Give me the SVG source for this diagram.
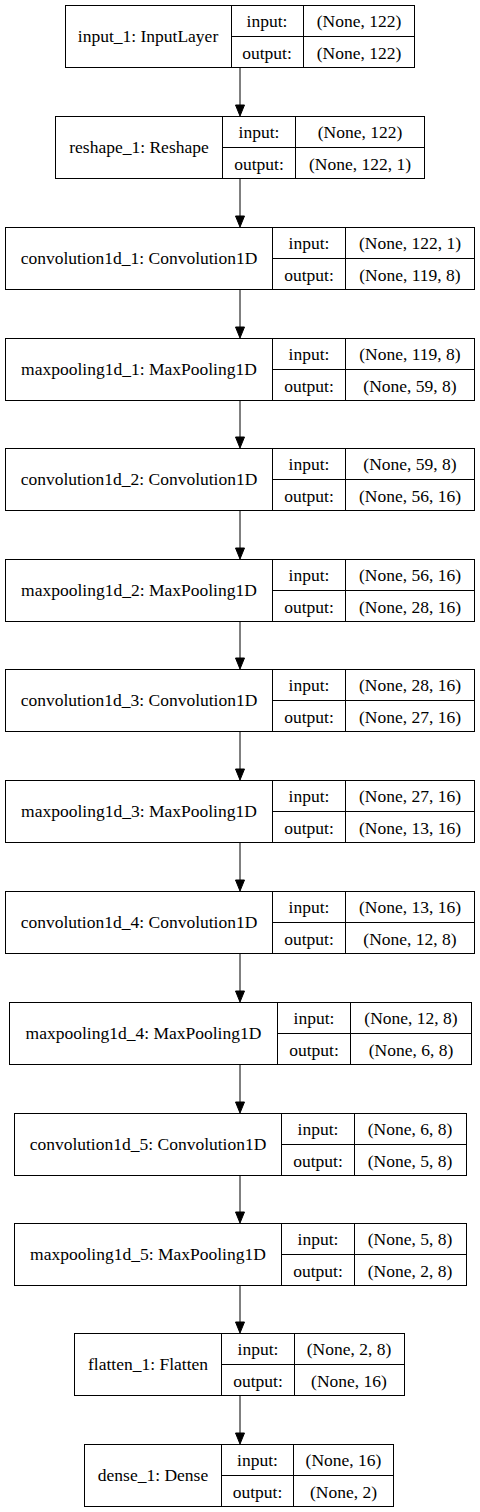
<svg xmlns="http://www.w3.org/2000/svg" width="480" height="1512" viewBox="0 0 480 1512">
<style>
.box{fill:#fff;stroke:#000;stroke-width:1}
.ln{stroke:#000;stroke-width:1;fill:none}
.ah{fill:#000;stroke:#000;stroke-width:1}
text{font-family:"Liberation Serif","Times New Roman",serif;font-size:17.5px;fill:#000;text-anchor:middle}
</style>
<rect width="480" height="1512" fill="#fff"/>
<g id="connectors">
<line class="ln" x1="240" y1="67" x2="240" y2="105"/><polygon class="ah" points="240,116 235.5,105 244.5,105"/>
<line class="ln" x1="240" y1="178" x2="240" y2="216"/><polygon class="ah" points="240,227 235.5,216 244.5,216"/>
<line class="ln" x1="240" y1="289" x2="240" y2="327"/><polygon class="ah" points="240,338 235.5,327 244.5,327"/>
<line class="ln" x1="240" y1="400" x2="240" y2="437"/><polygon class="ah" points="240,448 235.5,437 244.5,437"/>
<line class="ln" x1="240" y1="510" x2="240" y2="548"/><polygon class="ah" points="240,559 235.5,548 244.5,548"/>
<line class="ln" x1="240" y1="621" x2="240" y2="658"/><polygon class="ah" points="240,669 235.5,658 244.5,658"/>
<line class="ln" x1="240" y1="731" x2="240" y2="769"/><polygon class="ah" points="240,780 235.5,769 244.5,769"/>
<line class="ln" x1="240" y1="842" x2="240" y2="880"/><polygon class="ah" points="240,891 235.5,880 244.5,880"/>
<line class="ln" x1="240" y1="953" x2="240" y2="991"/><polygon class="ah" points="240,1002 235.5,991 244.5,991"/>
<line class="ln" x1="240" y1="1064" x2="240" y2="1102"/><polygon class="ah" points="240,1113 235.5,1102 244.5,1102"/>
<line class="ln" x1="240" y1="1175" x2="240" y2="1212"/><polygon class="ah" points="240,1223 235.5,1212 244.5,1212"/>
<line class="ln" x1="240" y1="1285" x2="240" y2="1322"/><polygon class="ah" points="240,1333 235.5,1322 244.5,1322"/>
<line class="ln" x1="240" y1="1395" x2="240" y2="1433"/><polygon class="ah" points="240,1444 235.5,1433 244.5,1433"/>
</g>
<g id="n1">
<rect class="box" x="65.5" y="5.5" width="349" height="62"/>
<line class="ln" x1="231.5" y1="5.5" x2="231.5" y2="67.5"/><line class="ln" x1="303.5" y1="5.5" x2="303.5" y2="67.5"/><line class="ln" x1="231.5" y1="36.5" x2="414.5" y2="36.5"/>
<text x="148" y="42">input_1: InputLayer</text><text x="267" y="27">input:</text><text x="267" y="59">output:</text><text x="359" y="27">(None, 122)</text><text x="359" y="59">(None, 122)</text>
</g>
<g id="n2">
<rect class="box" x="55.5" y="116.5" width="369" height="62"/>
<line class="ln" x1="222.5" y1="116.5" x2="222.5" y2="178.5"/><line class="ln" x1="295.5" y1="116.5" x2="295.5" y2="178.5"/><line class="ln" x1="222.5" y1="147.5" x2="424.5" y2="147.5"/>
<text x="139" y="153">reshape_1: Reshape</text><text x="259" y="138">input:</text><text x="259" y="170">output:</text><text x="360" y="138">(None, 122)</text><text x="360" y="170">(None, 122, 1)</text>
</g>
<g id="n3">
<rect class="box" x="5.5" y="227.5" width="469" height="62"/>
<line class="ln" x1="272.5" y1="227.5" x2="272.5" y2="289.5"/><line class="ln" x1="345.5" y1="227.5" x2="345.5" y2="289.5"/><line class="ln" x1="272.5" y1="258.5" x2="474.5" y2="258.5"/>
<text x="139" y="264">convolution1d_1: Convolution1D</text><text x="309" y="249">input:</text><text x="309" y="281">output:</text><text x="410" y="249">(None, 122, 1)</text><text x="410" y="281">(None, 119, 8)</text>
</g>
<g id="n4">
<rect class="box" x="5.5" y="338.5" width="469" height="62"/>
<line class="ln" x1="272.5" y1="338.5" x2="272.5" y2="400.5"/><line class="ln" x1="345.5" y1="338.5" x2="345.5" y2="400.5"/><line class="ln" x1="272.5" y1="369.5" x2="474.5" y2="369.5"/>
<text x="139" y="375">maxpooling1d_1: MaxPooling1D</text><text x="309" y="360">input:</text><text x="309" y="392">output:</text><text x="410" y="360">(None, 119, 8)</text><text x="410" y="392">(None, 59, 8)</text>
</g>
<g id="n5">
<rect class="box" x="5.5" y="448.5" width="469" height="62"/>
<line class="ln" x1="272.5" y1="448.5" x2="272.5" y2="510.5"/><line class="ln" x1="345.5" y1="448.5" x2="345.5" y2="510.5"/><line class="ln" x1="272.5" y1="479.5" x2="474.5" y2="479.5"/>
<text x="139" y="485">convolution1d_2: Convolution1D</text><text x="309" y="470">input:</text><text x="309" y="502">output:</text><text x="410" y="470">(None, 59, 8)</text><text x="410" y="502">(None, 56, 16)</text>
</g>
<g id="n6">
<rect class="box" x="5.5" y="559.5" width="469" height="62"/>
<line class="ln" x1="272.5" y1="559.5" x2="272.5" y2="621.5"/><line class="ln" x1="345.5" y1="559.5" x2="345.5" y2="621.5"/><line class="ln" x1="272.5" y1="590.5" x2="474.5" y2="590.5"/>
<text x="139" y="596">maxpooling1d_2: MaxPooling1D</text><text x="309" y="581">input:</text><text x="309" y="613">output:</text><text x="410" y="581">(None, 56, 16)</text><text x="410" y="613">(None, 28, 16)</text>
</g>
<g id="n7">
<rect class="box" x="5.5" y="669.5" width="469" height="62"/>
<line class="ln" x1="272.5" y1="669.5" x2="272.5" y2="731.5"/><line class="ln" x1="345.5" y1="669.5" x2="345.5" y2="731.5"/><line class="ln" x1="272.5" y1="700.5" x2="474.5" y2="700.5"/>
<text x="139" y="706">convolution1d_3: Convolution1D</text><text x="309" y="691">input:</text><text x="309" y="723">output:</text><text x="410" y="691">(None, 28, 16)</text><text x="410" y="723">(None, 27, 16)</text>
</g>
<g id="n8">
<rect class="box" x="5.5" y="780.5" width="469" height="62"/>
<line class="ln" x1="272.5" y1="780.5" x2="272.5" y2="842.5"/><line class="ln" x1="345.5" y1="780.5" x2="345.5" y2="842.5"/><line class="ln" x1="272.5" y1="811.5" x2="474.5" y2="811.5"/>
<text x="139" y="817">maxpooling1d_3: MaxPooling1D</text><text x="309" y="802">input:</text><text x="309" y="834">output:</text><text x="410" y="802">(None, 27, 16)</text><text x="410" y="834">(None, 13, 16)</text>
</g>
<g id="n9">
<rect class="box" x="5.5" y="891.5" width="469" height="62"/>
<line class="ln" x1="272.5" y1="891.5" x2="272.5" y2="953.5"/><line class="ln" x1="345.5" y1="891.5" x2="345.5" y2="953.5"/><line class="ln" x1="272.5" y1="922.5" x2="474.5" y2="922.5"/>
<text x="139" y="928">convolution1d_4: Convolution1D</text><text x="309" y="913">input:</text><text x="309" y="945">output:</text><text x="410" y="913">(None, 13, 16)</text><text x="410" y="945">(None, 12, 8)</text>
</g>
<g id="n10">
<rect class="box" x="9.5" y="1002.5" width="462" height="62"/>
<line class="ln" x1="277.5" y1="1002.5" x2="277.5" y2="1064.5"/><line class="ln" x1="350.5" y1="1002.5" x2="350.5" y2="1064.5"/><line class="ln" x1="277.5" y1="1033.5" x2="471.5" y2="1033.5"/>
<text x="143.5" y="1039">maxpooling1d_4: MaxPooling1D</text><text x="314" y="1024">input:</text><text x="314" y="1056">output:</text><text x="411" y="1024">(None, 12, 8)</text><text x="411" y="1056">(None, 6, 8)</text>
</g>
<g id="n11">
<rect class="box" x="14.5" y="1113.5" width="452" height="62"/>
<line class="ln" x1="281.5" y1="1113.5" x2="281.5" y2="1175.5"/><line class="ln" x1="354.5" y1="1113.5" x2="354.5" y2="1175.5"/><line class="ln" x1="281.5" y1="1144.5" x2="466.5" y2="1144.5"/>
<text x="148" y="1150">convolution1d_5: Convolution1D</text><text x="318" y="1135">input:</text><text x="318" y="1167">output:</text><text x="410" y="1135">(None, 6, 8)</text><text x="410" y="1167">(None, 5, 8)</text>
</g>
<g id="n12">
<rect class="box" x="14.5" y="1223.5" width="452" height="62"/>
<line class="ln" x1="281.5" y1="1223.5" x2="281.5" y2="1285.5"/><line class="ln" x1="354.5" y1="1223.5" x2="354.5" y2="1285.5"/><line class="ln" x1="281.5" y1="1254.5" x2="466.5" y2="1254.5"/>
<text x="148" y="1260">maxpooling1d_5: MaxPooling1D</text><text x="318" y="1245">input:</text><text x="318" y="1277">output:</text><text x="410" y="1245">(None, 5, 8)</text><text x="410" y="1277">(None, 2, 8)</text>
</g>
<g id="n13">
<rect class="box" x="74.5" y="1333.5" width="330" height="62"/>
<line class="ln" x1="221.5" y1="1333.5" x2="221.5" y2="1395.5"/><line class="ln" x1="294.5" y1="1333.5" x2="294.5" y2="1395.5"/><line class="ln" x1="221.5" y1="1364.5" x2="404.5" y2="1364.5"/>
<text x="148" y="1370">flatten_1: Flatten</text><text x="258" y="1355">input:</text><text x="258" y="1387">output:</text><text x="349" y="1355">(None, 2, 8)</text><text x="349" y="1387">(None, 16)</text>
</g>
<g id="n14">
<rect class="box" x="84.5" y="1444.5" width="309" height="62"/>
<line class="ln" x1="221.5" y1="1444.5" x2="221.5" y2="1506.5"/><line class="ln" x1="293.5" y1="1444.5" x2="293.5" y2="1506.5"/><line class="ln" x1="221.5" y1="1475.5" x2="393.5" y2="1475.5"/>
<text x="153" y="1481">dense_1: Dense</text><text x="257.5" y="1466">input:</text><text x="257.5" y="1498">output:</text><text x="343.5" y="1466">(None, 16)</text><text x="343.5" y="1498">(None, 2)</text>
</g>
</svg>
